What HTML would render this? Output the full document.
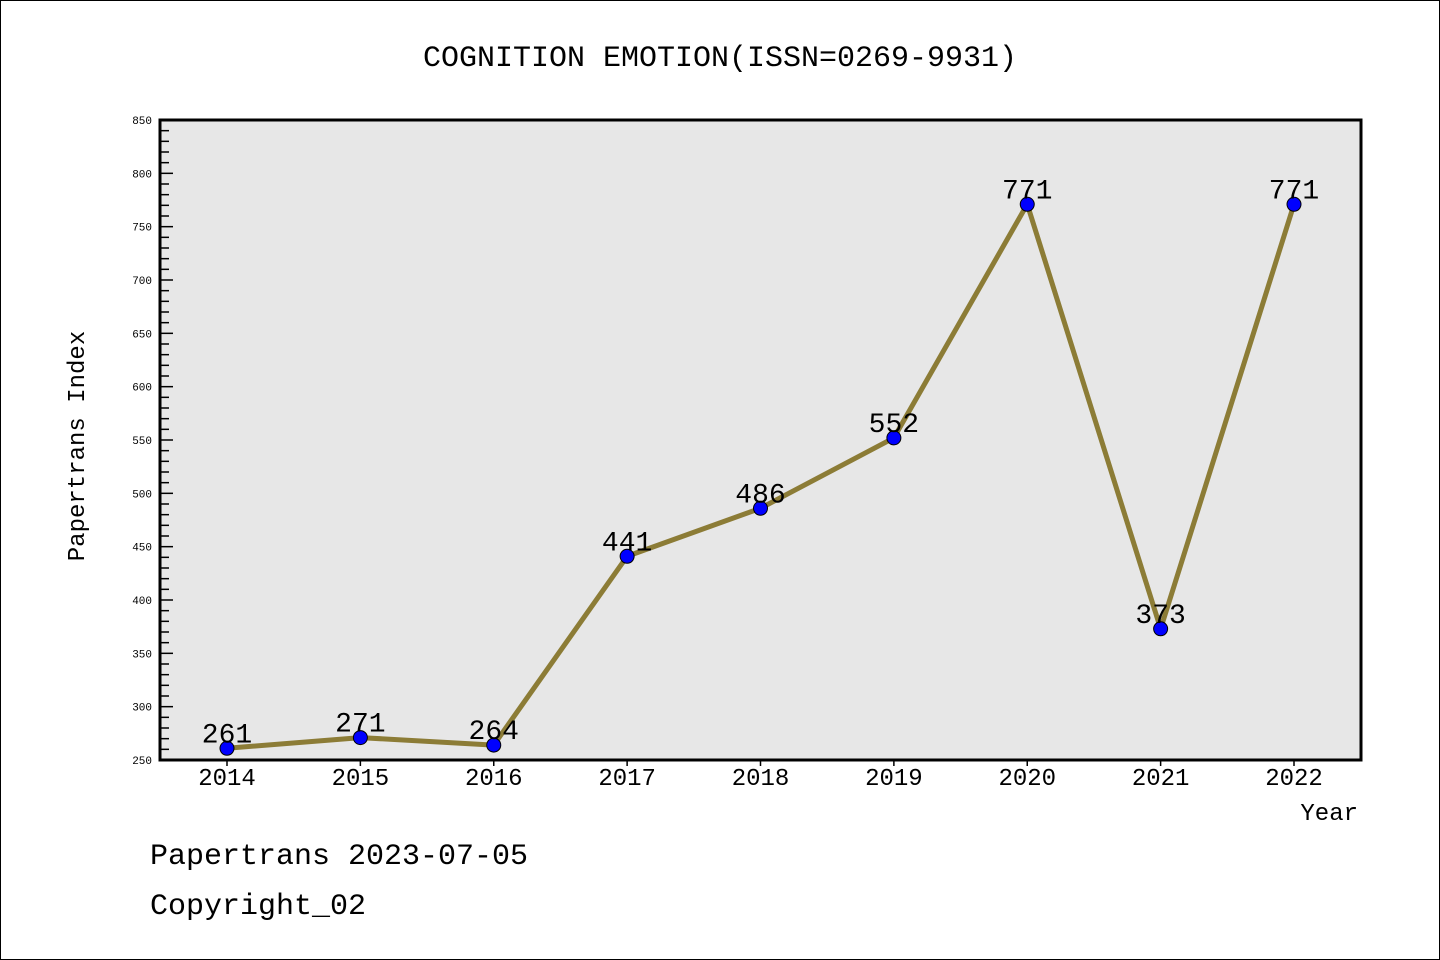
<!DOCTYPE html>
<html><head><meta charset="utf-8"><style>
body{margin:0;background:#fff}
svg{display:block}
text{font-family:"Liberation Mono","DejaVu Sans Mono",monospace}
</style></head><body>
<svg id="c" width="1440" height="960" viewBox="0 0 1440 960">
<rect x="0.5" y="0.5" width="1439" height="959" fill="#fff" stroke="#000"/>
<text x="720" y="66" text-anchor="middle" font-size="30">COGNITION EMOTION(ISSN=0269-9931)</text>
<rect x="160" y="120" width="1201" height="640" fill="#e7e7e7"/>
<g id="axes"></g>
<g id="series"></g>
<rect x="160" y="120" width="1201" height="640" fill="none" stroke="#000" stroke-width="3"/>
<text transform="translate(84,446) rotate(-90)" text-anchor="middle" font-size="24">Papertrans Index</text>
<text x="1358" y="820" text-anchor="end" font-size="24">Year</text>
<text x="150" y="864" font-size="30">Papertrans 2023-07-05</text>
<text x="150" y="914" font-size="30">Copyright_02</text>
</svg>
<script>
const years=["2014","2015","2016","2017","2018","2019","2020","2021","2022"];
const values=[261,271,264,441,486,552,771,373,771];
const yTicks=[250,300,350,400,450,500,550,600,650,700,750,800,850];
const NS="http://www.w3.org/2000/svg";
function xs(i){return 227+i*(1294-227)/(years.length-1);}
function ys(v){return 760-(v-250)*640/600;}
function mk(t,a,p){const e=document.createElementNS(NS,t);for(const k in a)e.setAttribute(k,a[k]);p.appendChild(e);return e;}
const ax=document.getElementById('axes'),se=document.getElementById('series');
for(let v=250;v<=850;v+=10){
  const major=v%50===0;
  const l=mk('line',{x1:160,x2:major?173:169,y1:ys(v),y2:ys(v),stroke:'#000','stroke-width':1.5},ax);
  
  
}
yTicks.forEach(v=>{
  const t=mk('text',{x:152,y:ys(v)+4,'text-anchor':'end','font-size':11,'font-family':'DejaVu Sans, sans-serif'},ax);
  t.textContent=v;
  
  
});
years.forEach((y,i)=>{
  const l=mk('line',{x1:xs(i),x2:xs(i),y1:760,y2:766,stroke:'#000','stroke-width':1.5},ax);
  
  
  const t=mk('text',{x:xs(i),y:785,'text-anchor':'middle','font-size':24,'font-family':'Liberation Sans, sans-serif'},ax);
  t.textContent=y;
  
  
});
const pl=mk('polyline',{points:values.map((v,i)=>xs(i)+','+ys(v)).join(' '),fill:'none',stroke:'#8c7c36','stroke-width':5,'stroke-linejoin':'round'},se);


values.forEach((v,i)=>{
  const c=mk('circle',{cx:xs(i),cy:ys(v),r:7,fill:'#0000ff',stroke:'#000','stroke-width':1},se);
  
  
  const t=mk('text',{x:xs(i),y:ys(v)-6,'text-anchor':'middle','font-size':28,'font-family':'Liberation Sans, sans-serif'},se);
  t.textContent=v;
  
  
});
</script>
</body></html>
